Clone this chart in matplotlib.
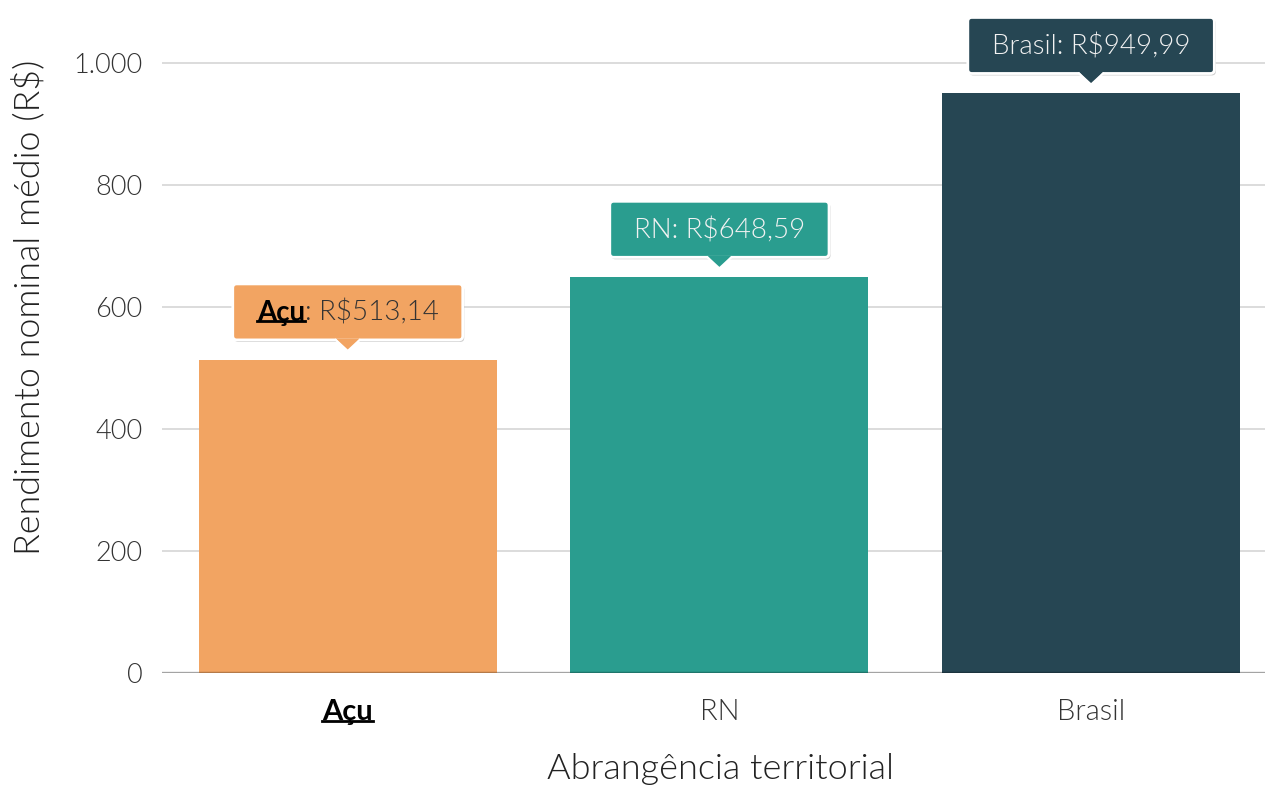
import numpy as np
import matplotlib
matplotlib.use('Agg')
import matplotlib.pyplot as plt
import matplotlib.transforms as mtransforms
from matplotlib.patches import FancyBboxPatch, Polygon
from matplotlib.lines import Line2D
from matplotlib.ticker import FuncFormatter

plt.rcParams['font.family'] = ['Lato', 'DejaVu Sans']

regioes = ['Açu', 'RN', 'Brasil']
rendimento = [513.14, 648.59, 949.99]
cores = ['#F2A462', '#2A9D8F', '#264653']
cor_texto = ['#333333', '#f2f2f2', '#f2f2f2']
yticks = [0, 200, 400, 600, 800, 1000]
destaque = 'Açu'
LEVE = 300


def brl(v):
    return 'R$' + f'{v:,.2f}'.replace(',', 'X').replace('.', ',').replace('X', '.')


fig = plt.figure(figsize=(12.65, 7.87), dpi=100)
ax = fig.add_axes([0.128, 0.145, 0.872, 0.837])
x = np.arange(len(regioes))
ax.bar(x, rendimento, width=0.802, color=cores, zorder=2)
ax.axhline(0, color='black', alpha=0.25, lw=2.5, zorder=3)

ax.set_xlim(-0.5, 2.468)
ax.set_ylim(0, 1080)
ax.set_yticks(yticks)
ax.yaxis.set_major_formatter(FuncFormatter(lambda v, p: f'{int(v):,}'.replace(',', '.')))
ax.grid(axis='y', color='#dcdcdc', lw=1.4, zorder=0)
ax.set_axisbelow(True)
for s in ax.spines.values():
    s.set_visible(False)
ax.tick_params(length=0, labelcolor='#333333')
ax.tick_params(axis='y', pad=14, labelsize=19.5)
ax.tick_params(axis='x', pad=19, labelsize=21)
ax.set_xticks(x)
ax.set_xticklabels(regioes, fontweight=LEVE)
for lbl in ax.get_yticklabels():
    lbl.set_fontweight(LEVE)
ax.get_xticklabels()[0].set_fontweight('bold')
ax.get_xticklabels()[0].set_color('black')

ax.set_ylabel('Rendimento nominal médio (R$)', fontsize=25.8, fontweight=LEVE,
              color='#222222')
ax.yaxis.set_label_coords(-0.106, 0.555)
ax.set_xlabel('Abrangência territorial', fontsize=26, fontweight=LEVE,
              color='#222222')
ax.xaxis.set_label_coords(0.506, -0.122)

# caixas de valor (tooltip) acima das barras
anot = []
for i, (reg, v) in enumerate(zip(regioes, rendimento)):
    tr = mtransforms.Affine2D() + mtransforms.ScaledTranslation(i, v, ax.transData)
    if reg == destaque:
        partes = [(reg, 'bold', 'black', True), (': ' + brl(v), LEVE, cor_texto[i], False)]
    else:
        partes = [(f'{reg}: {brl(v)}', LEVE, cor_texto[i], False)]
    textos = []
    for s, w, c, u in partes:
        t = ax.text(0, 39, s, transform=tr, fontsize=20, fontweight=w, color=c,
                    ha='left', va='baseline', zorder=6, clip_on=False)
        textos.append((t, u))
    anot.append((i, tr, textos))

fig.canvas.draw()
r = fig.canvas.get_renderer()

for i, tr, textos in anot:
    larguras = [t.get_window_extent(r).width for t, u in textos]
    total = sum(larguras)
    x0 = -total / 2
    for (t, u), w in zip(textos, larguras):
        t.set_x(x0)
        x0 += w
    pad = 24
    bx, by, bw, bh = -total / 2 - pad, 20, total + 2 * pad, 56
    sombra = FancyBboxPatch((bx + 1.5, by - 2), bw, bh, boxstyle='round,pad=0,rounding_size=4',
                            transform=tr, fc='#000000', ec='none', alpha=0.2, zorder=4, clip_on=False)
    caixa = FancyBboxPatch((bx, by), bw, bh, boxstyle='round,pad=0,rounding_size=4',
                           transform=tr, fc=cores[i], ec='white', lw=2, zorder=5, clip_on=False)
    seta = Polygon([(-12, 21.5), (12, 21.5), (0, 9)], closed=True, transform=tr,
                   fc=cores[i], ec='none', zorder=5.5, clip_on=False)
    borda = Line2D([-12, 0, 12], [20, 9, 20], transform=tr, color='white', lw=1.5,
                   zorder=5.6, clip_on=False)
    ax.add_patch(sombra)
    ax.add_patch(caixa)
    ax.add_patch(seta)
    ax.add_line(borda)

fig.canvas.draw()
for i, tr, textos in anot:
    for t, u in textos:
        if u:
            bb = t.get_window_extent(r)
            y = bb.y0 + 0.17 * bb.height
            fig.add_artist(Line2D([bb.x0, bb.x1], [y, y], transform=mtransforms.IdentityTransform(),
                                  color='black', lw=2, zorder=7))

lbl = ax.get_xticklabels()[0]
bb = lbl.get_window_extent(r)
y = bb.y0 + 0.15 * bb.height
fig.add_artist(Line2D([bb.x0, bb.x1], [y, y], transform=mtransforms.IdentityTransform(),
                      color='black', lw=2))

fig.savefig('out.png', dpi=100)
